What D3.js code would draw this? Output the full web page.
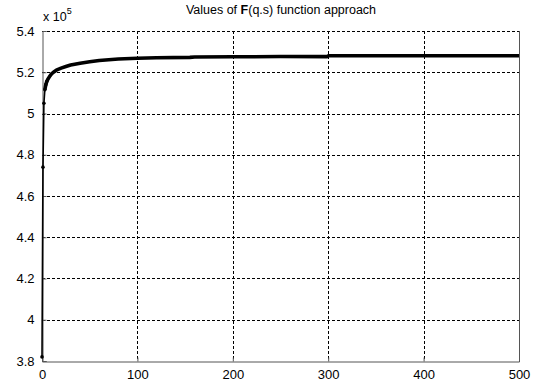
<!DOCTYPE html>
<html>
<head>
<meta charset="utf-8">
<script src="https://d3js.org/d3.v7.min.js"></script>
<style>
  html, body { margin: 0; padding: 0; background: #fff; }
  svg { display: block; }
  text { font-family: "Liberation Sans", Arial, sans-serif; fill: #000; }
</style>
</head>
<body>
<svg id="chart" width="540" height="385"></svg>
<script>
// Iteration index and F(q,s) value (in units of 1e5)
const iterations = [0, 1, 2, 3, 4, 5, 6, 8, 10, 12, 15, 20, 25, 30, 40, 50, 60, 70, 80, 100, 120, 155, 160, 200, 250, 299, 300, 400, 500];
const fValues = [3.82, 4.74, 5.05, 5.115, 5.14, 5.155, 5.165, 5.18, 5.192, 5.2, 5.21, 5.22, 5.228, 5.235, 5.244, 5.251, 5.257, 5.261, 5.264, 5.268, 5.27, 5.272, 5.274, 5.275, 5.276, 5.276, 5.28, 5.28, 5.28];
const markedIterations = [0, 1, 2, 3, 4, 5];
const xTicks = [0, 100, 200, 300, 400, 500];
const yTicks = [3.8, 4, 4.2, 4.4, 4.6, 4.8, 5, 5.2, 5.4];
const titleBold = "F";
const titleRest = "(q.s) function approach";
const titleLead = "Values of ";

const svg = d3.select("#chart");
const plotLeft = 42, plotRight = 519, plotTop = 31, plotBottom = 361;

const x = d3.scaleLinear().domain([0, 500]).range([plotLeft, plotRight]);
const y = d3.scaleLinear().domain([3.8, 5.4]).range([plotBottom, plotTop]);

const points = iterations.map((it, i) => ({ it, v: fValues[i] }));

// Dotted grid
const grid = svg.append("g");
grid.selectAll("line.gx").data(xTicks.slice(1, -1)).join("line")
  .attr("x1", d => Math.round(x(d)) + 0.5).attr("x2", d => Math.round(x(d)) + 0.5)
  .attr("y1", plotTop).attr("y2", plotBottom)
  .attr("stroke", "#000").attr("stroke-width", 1).attr("stroke-dasharray", "3,2");
grid.selectAll("line.gy").data(yTicks.slice(1, -1)).join("line")
  .attr("y1", d => Math.round(y(d)) + 0.5).attr("y2", d => Math.round(y(d)) + 0.5)
  .attr("x1", plotLeft).attr("x2", plotRight)
  .attr("stroke", "#000").attr("stroke-width", 1).attr("stroke-dasharray", "3,2");
// top grid line (dotted over the frame)
svg.append("line")
  .attr("x1", plotLeft).attr("x2", plotRight).attr("y1", plotTop + 0.5).attr("y2", plotTop + 0.5)
  .attr("stroke", "#000").attr("stroke-dasharray", "3,2");

// Axes with inward ticks
const xAxis = d3.axisBottom(x).tickValues(xTicks).tickSize(-4).tickPadding(8).tickFormat(d3.format("d"));
const yAxis = d3.axisLeft(y).tickValues(yTicks).tickSize(-4).tickPadding(8).tickFormat(d => d3.format("")(d));

const gx = svg.append("g").attr("transform", `translate(0,${plotBottom + 0.5})`).call(xAxis);
const gy = svg.append("g").attr("transform", `translate(${plotLeft + 0.5},0)`).call(yAxis);
[gx, gy].forEach(g => {
  g.select(".domain").attr("stroke", "#555");
  g.selectAll(".tick line").attr("stroke", "#555");
  g.selectAll(".tick text").attr("font-size", 13).attr("font-family", "Liberation Sans, Arial, sans-serif");
});
gx.selectAll(".tick text").attr("dy", "0.75em").attr("y", 8);
// right frame line
svg.append("line")
  .attr("x1", plotRight + 0.5).attr("x2", plotRight + 0.5).attr("y1", plotTop).attr("y2", plotBottom)
  .attr("stroke", "#555");

// Data line: thin rise, then a heavy trace of densely packed samples
const line = d3.line().x(d => x(d.it)).y(d => y(d.v));
svg.append("path")
  .datum(points.slice(0, 4))
  .attr("d", line).attr("fill", "none").attr("stroke", "#000").attr("stroke-width", 1.6);
svg.append("path")
  .datum(points.slice(3))
  .attr("d", line).attr("fill", "none").attr("stroke", "#000").attr("stroke-width", 3.6)
  .attr("stroke-linejoin", "round");
svg.selectAll("circle.m").data(points.filter(p => markedIterations.includes(p.it))).join("circle")
  .attr("cx", d => x(d.it)).attr("cy", d => y(d.v)).attr("r", 1.8).attr("fill", "#000");

// Exponent label
const ex = svg.append("text").attr("x", plotLeft + 1).attr("y", 21).attr("font-size", 12.5);
ex.append("tspan").text("x 10");
ex.append("tspan").attr("font-size", 9).attr("dy", -7).text("5");

// Title
const t = svg.append("text").attr("x", 281).attr("y", 14).attr("text-anchor", "middle").attr("font-size", 12.5);
t.append("tspan").text(titleLead);
t.append("tspan").attr("font-weight", "bold").text(titleBold);
t.append("tspan").text(titleRest);
</script>
</body>
</html>
